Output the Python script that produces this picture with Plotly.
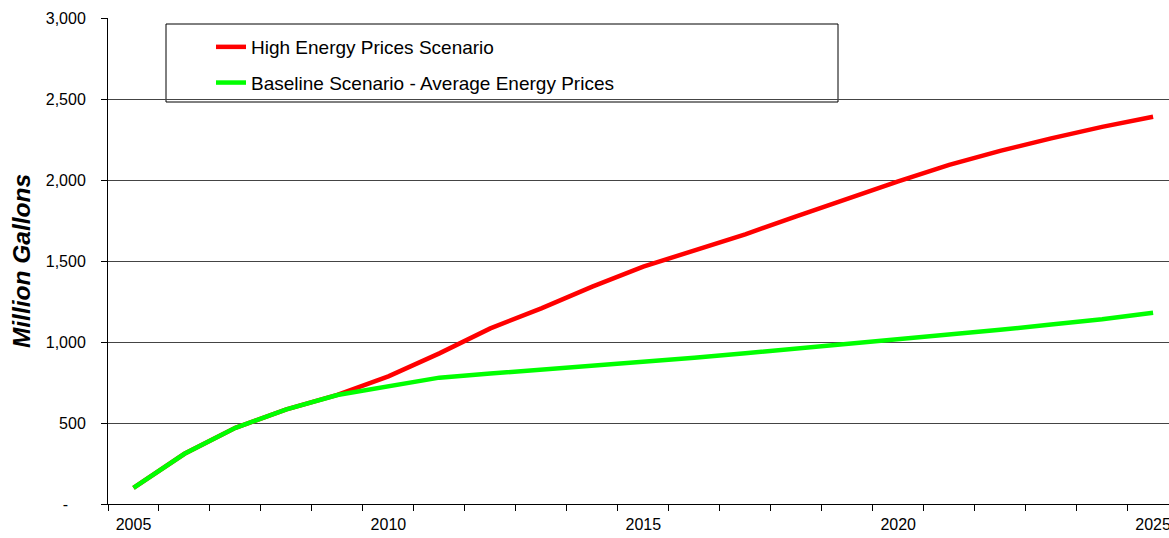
import plotly.graph_objects as go

years = list(range(2005, 2026))
high_prices = [100, 310, 470, 584, 673, 788, 930, 1084, 1208, 1342, 1465,
               1565, 1665, 1775, 1885, 1992, 2093, 2180, 2257, 2328, 2390]
baseline = [100, 310, 470, 584, 673, 730, 780, 805, 828, 852, 877,
            903, 930, 958, 985, 1015, 1045, 1075, 1108, 1140, 1180]
series_names = ["High Energy Prices Scenario", "Baseline Scenario - Average Energy Prices"]
y_tickvals = [0, 500, 1000, 1500, 2000, 2500, 3000]
y_ticktext = ["-\u00a0\u00a0\u00a0\u00a0", "500", "1,000", "1,500", "2,000", "2,500", "3,000"]
x_tickvals = [2005, 2010, 2015, 2020, 2025]

FONT = "Liberation Sans, Arial, sans-serif"

fig = go.Figure()
fig.add_trace(go.Scatter(x=years, y=high_prices, mode="lines", name=series_names[0],
                         line=dict(color="#FF0000", width=4.5), legendgroup="a"))
fig.add_trace(go.Scatter(x=years, y=baseline, mode="lines", name=series_names[1],
                         line=dict(color="#00FF00", width=4.5), legendgroup="b"))

W, H = 1169, 538
L, T, B, R = 108, 18, 34, 0
pw, ph = W - L - R, H - T - B

def px(x):
    return (x - L) / pw

def py(y):
    return (H - B - y) / ph

fig.add_shape(type="rect", xref="paper", yref="paper",
              x0=px(166), x1=px(838), y0=py(102), y1=py(24),
              line=dict(color="black", width=1), fillcolor="white", layer="between")

fig.update_layout(
    width=W, height=H,
    margin=dict(l=L, r=R, t=T, b=B, autoexpand=False),
    paper_bgcolor="white", plot_bgcolor="white",
    font=dict(family=FONT, color="black", size=16),
    showlegend=True,
    legend=dict(x=px(211), y=py(28), xanchor="left", yanchor="top",
                bgcolor="rgba(0,0,0,0)", borderwidth=0,
                font=dict(size=19, family=FONT, color="black"),
                traceorder="grouped", tracegroupgap=8),
    xaxis=dict(range=[2004.5, 2004.5 + pw / 50.98], tickvals=x_tickvals,
               ticktext=[str(v) for v in x_tickvals],
               showgrid=False, zeroline=False, showline=True, linecolor="black", linewidth=1,
               ticks="outside", ticklen=0, ticklabelstandoff=6,
               ticklabeloverflow="allow",
               tickfont=dict(size=16, family=FONT),
               minor=dict(tick0=2004.5, dtick=1, ticks="outside", ticklen=6,
                          tickcolor="black", tickwidth=1, showgrid=False)),
    yaxis=dict(range=[0, 3000], tickvals=y_tickvals, ticktext=y_ticktext,
               showgrid=True, gridcolor="#444444", gridwidth=1, zeroline=False,
               showline=True, linecolor="black", linewidth=1,
               ticks="outside", ticklen=6, tickcolor="black", ticklabelstandoff=12,
               tickfont=dict(size=16, family=FONT),
               title=dict(text="<b><i>Million Gallons</i></b>",
                          font=dict(size=24.5, family=FONT), standoff=8)),
)

fig.write_html("out.html", config={"displayModeBar": False},
               post_script="document.body.style.margin='0';document.body.style.overflow='hidden';")
